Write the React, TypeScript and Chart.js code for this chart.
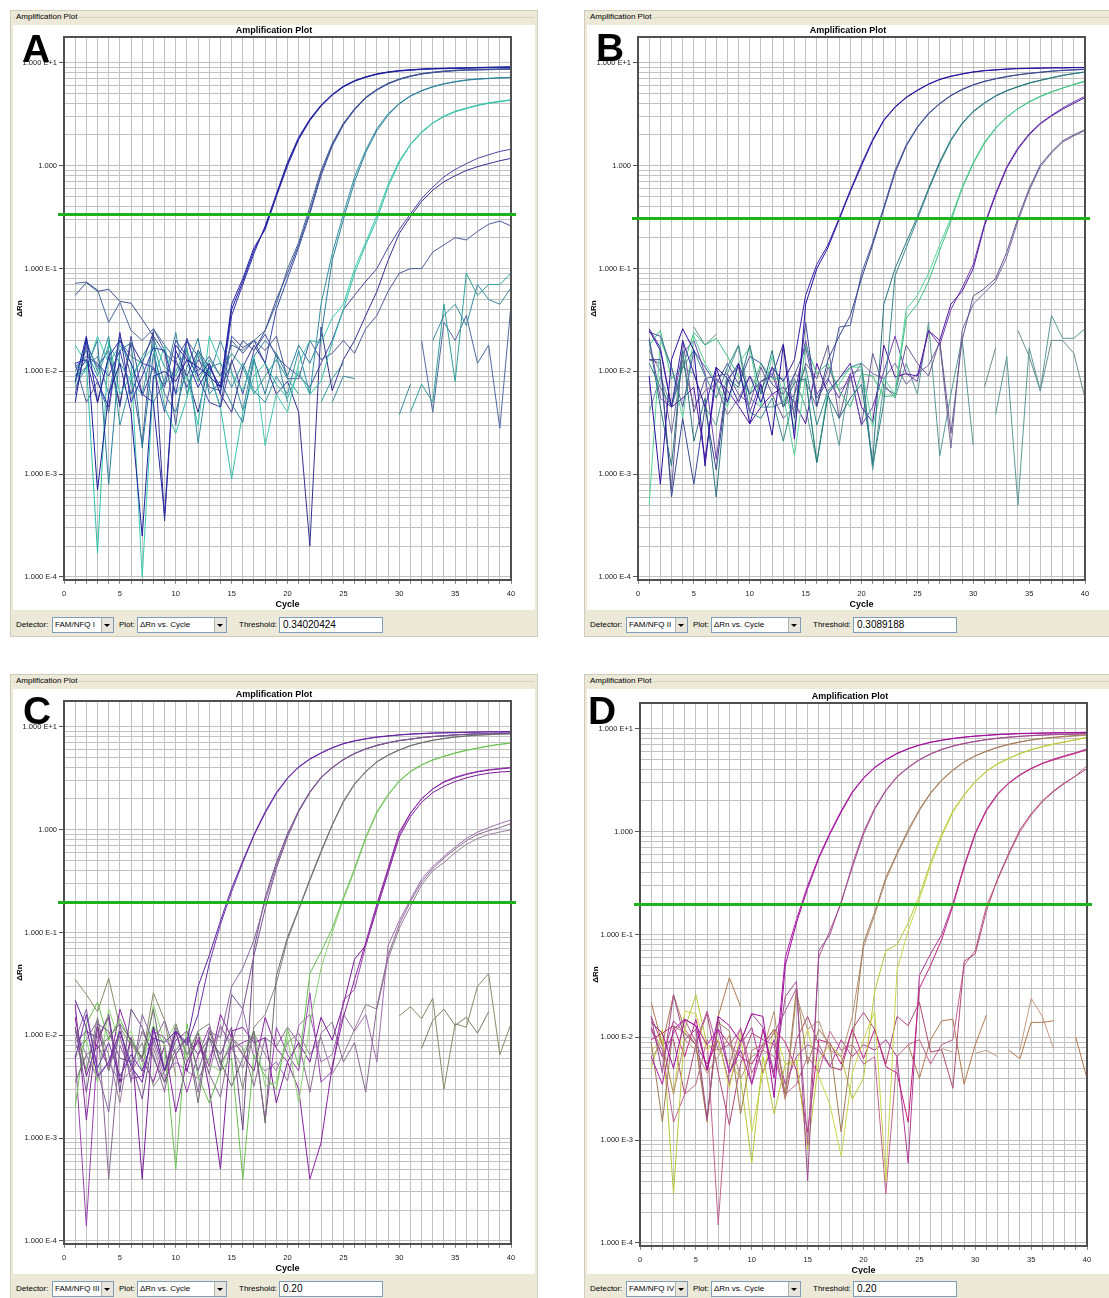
import React, { useEffect, useRef } from "react";
import { Chart, registerables } from "chart.js";

Chart.register(...registerables);

const FONT = '"Liberation Sans", Arial, Helvetica, sans-serif';
Chart.defaults.font.family = FONT;
const _ = null;

// ---------- axes ----------
const CYCLES = [1, 2, 3, 4, 5, 6, 7, 8, 9, 10, 11, 12, 13, 14, 15, 16, 17, 18, 19, 20,
  21, 22, 23, 24, 25, 26, 27, 28, 29, 30, 31, 32, 33, 34, 35, 36, 37, 38, 39, 40];
const X_GRID = [0, ...CYCLES];
const X_LABELED = [0, 5, 10, 15, 20, 25, 30, 35, 40];
const Y_LABEL_VALUES = [1e-4, 1e-3, 1e-2, 1e-1, 1, 10];
const Y_LABELS = ["1.000 E-4", "1.000 E-3", "1.000 E-2", "1.000 E-1", "1.000", "1.000 E+1"];
const Y_MIN = 9.35e-5;
const Y_MAX = 17.9;

const LETTERS = ["A", "B", "C", "D"];
const DETECTORS = ["FAM/NFQ I", "FAM/NFQ II", "FAM/NFQ III", "FAM/NFQ IV"];
const THRESHOLDS = [0.34020424, 0.3089188, 0.2, 0.2];
const THRESHOLD_TEXT = ["0.34020424", "0.3089188", "0.20", "0.20"];

// ---------- Panel A (ΔRn per cycle 1..40) ----------
const A1 = [.005, .021, .0007, .006, .012, .004, .00025, .009, .010, .008,
  .013, .011, .009, .007, .040, .075, .15, .25, .52, 1.05,
  1.85, 2.8, 3.85, 4.9, 5.9, 6.7, 7.3, 7.8, 8.15, 8.4,
  8.55, 8.7, 8.8, 8.85, 8.9, 8.95, 9.0, 9.05, 9.1, 9.1];
const A2 = [.008, .022, .005, .014, .020, .012, .006, .005, .0004, .018,
  .013, .007, .011, .007, .045, .080, .16, .24, .50, 1.0,
  1.8, 2.75, 3.8, 4.85, 5.85, 6.65, 7.25, 7.75, 8.1, 8.35,
  8.5, 8.65, 8.75, 8.8, 8.85, 8.9, 8.95, 9.0, 9.0, 9.05];
const A3 = [.012, .013, .008, .0045, .024, .005, .009, .017, .016, .006,
  .021, .009, .012, .006, .035, .070, .14, .26, .53, 1.08,
  1.9, 2.85, 3.9, 4.95, 5.95, 6.75, 7.35, 7.85, 8.2, 8.45,
  8.6, 8.75, 8.85, 8.9, 8.95, 9.0, 9.05, 9.1, 9.15, 9.2];
const A4 = [.055, .073, .060, .063, .048, .046, .032, .022, .015, .012,
  .009, .016, .011, .007, .012, .020, .016, .025, .05, .09,
  .17, .36, .85, 1.6, 2.55, 3.55, 4.6, 5.5, 6.3, 6.95,
  7.45, 7.85, 8.1, 8.3, 8.45, 8.55, 8.6, 8.65, 8.7, 8.75];
const A5 = [.072, .074, .062, .030, .047, .025, .020, .026, .018, .013,
  .020, .010, .014, .009, .018, .016, .020, .025, .045, .10,
  .18, .40, .90, 1.65, 2.6, 3.6, 4.65, 5.55, 6.35, 7.0,
  7.5, 7.9, 8.15, 8.35, 8.5, 8.6, 8.65, 8.7, 8.75, 8.8];
const A6 = [.011, .014, .012, .009, .016, .006, .012, .011, .007, .020,
  .014, .009, .005, .0045, .022, .017, .020, .012, .040, .08,
  .16, .34, .80, 1.55, 2.5, 3.5, 4.55, 5.45, 6.25, 6.9,
  7.4, 7.8, 8.05, 8.25, 8.4, 8.5, 8.55, 8.6, 8.65, 8.7];
const A7 = [.009, .011, .020, .0008, .016, .019, .0018, .015, .006, .004,
  .011, .021, .006, .008, .0048, .0032, .013, .006, .015, .009,
  .018, .012, .022, .12, .30, .70, 1.35, 2.2, 3.1, 4.0,
  4.75, 5.35, 5.85, 6.25, 6.55, 6.8, 6.95, 7.05, 7.15, 7.2];
const A8 = [.0075, .020, .010, .022, .003, .008, .006, .019, .0075, .010,
  .017, .002, .011, .012, .007, .012, .0065, .005, .009, .006,
  .016, .006, .045, .14, .34, .78, 1.42, 2.3, 3.2, 4.05,
  4.8, 5.4, 5.9, 6.3, 6.6, 6.85, 7.0, 7.1, 7.2, 7.25];
const A9 = [.018, .012, .00017, .020, .006, .009, .013, .017, .0045, .0025,
  .0055, .016, .0095, .0045, .0009, .004, .009, .012, .0075, .0055,
  .010, .006, .008, .019, .040, .09, .17, .30, .62, 1.08,
  1.6, 2.1, 2.6, 3.0, 3.35, 3.6, 3.85, 4.05, 4.2, 4.35];
const A10 = [.009, .010, .022, .012, .018, .012, .0001, .008, .018, .006,
  .009, .003, .022, .012, .0095, .0065, .014, .0019, .006, .004,
  .012, .020, .019, .033, .045, .10, .18, .33, .66, 1.12,
  1.62, 2.15, 2.62, 3.05, 3.4, 3.65, 3.9, 4.1, 4.25, 4.4];
const A11 = [.009, .013, .005, .014, .0048, .019, .012, .024, .00035, .016,
  .009, .004, .012, .006, .004, .011, .018, .012, .006, .008,
  .004, .0002, .027, .0065, .013, .020, .035, .06, .12, .22,
  .32, .45, .58, .70, .80, .90, .98, 1.05, 1.12, 1.18];
const A12 = [.006, .018, .011, .016, .0045, .022, .0058, .011, .004, .013,
  .007, .013, .010, .0044, .013, .006, .016, .023, .014, .011,
  .009, .007, .012, .020, .040, .055, .075, .10, .16, .24,
  .34, .48, .62, .78, .92, 1.05, 1.18, 1.28, 1.38, 1.45];
const A13 = [.012, .005, .008, .004, .023, .009, .002, .026, .016, .003,
  .020, .014, .007, .0065, .020, .015, .020, .016, .022, .0085,
  .0085, .020, .013, .015, .020, .015, .026, .035, .06, .09,
  .10, .10, .145, .17, .20, .19, .23, .27, .29, .26];
const A14 = [.007, .011, .014, .006, .020, .014, .012, .005, .008, .024,
  .006, .015, .009, .020, .010, .0042, .014, .020, .015, .005,
  _, _, _, .005, .009, .0085, _, _, _, .0038,
  .0075, _, .020, .035, .045, .028, .07, .05, .045, .065];
const A15 = [.010, .016, .009, .018, .012, .008, .014, .021, .011, .009,
  .016, .008, .013, .009, .015, .011, .006, .009, .013, .0085,
  .006, _, .005, .0085, .012, _, _, _, _, _,
  .004, .0075, .005, .045, .008, .09, .055, .07, .07, .09];
const A16 = [_, _, _, _, _, _, _, _, _, _,
  _, _, _, _, _, _, _, _, _, _,
  _, _, _, _, _, _, _, _, _, _,
  _, .020, .004, .030, .020, .035, .012, .018, .0028, .045];
const A_SERIES = [A1, A2, A3, A4, A5, A6, A7, A8, A9, A10, A11, A12, A13, A14, A15, A16];
const A_COLORS = ["#1c1c9c", "#2626a6", "#3434b0", "#3c5090", "#4a6a9a", "#3a4aa8", "#2a7c9c", "#2f92a0",
  "#2fbfa6", "#3ccab0", "#34308e", "#4848a0", "#4a5c96", "#3a8aa0", "#2f9f9a", "#506aa0"];

// ---------- Panel B ----------
const B1 = [.009, .0008, .013, .026, .016, .0012, .011, .005, .012, .0031,
  .0075, .0024, .018, .0022, .045, .10, .16, .30, .56, 1.0,
  1.75, 2.75, 3.7, 4.6, 5.4, 6.2, 6.9, 7.4, 7.8, 8.15,
  8.4, 8.55, 8.7, 8.8, 8.85, 8.9, 8.95, 8.95, 9.0, 9.0];
const B2 = [.025, .016, .0045, .020, .0095, .0045, .011, .0085, .005, .009,
  .005, .011, .008, .013, .055, .11, .17, .31, .58, 1.05,
  1.8, 2.8, 3.75, 4.65, 5.45, 6.25, 6.95, 7.45, 7.85, 8.2,
  8.45, 8.6, 8.75, 8.85, 8.9, 8.95, 9.0, 9.0, 9.05, 9.05];
const B3 = [.013, .013, .0006, .0035, .0008, .0045, .0011, .008, .012, .006,
  .008, .009, .0185, .0035, .030, .0046, .013, .022, .035, .08,
  .17, .38, .85, 1.55, 2.35, 3.2, 4.0, 4.8, 5.5, 6.1,
  6.6, 7.0, 7.35, 7.65, 7.9, 8.1, 8.3, 8.45, 8.55, 8.65];
const B4 = [.024, .022, .011, .0045, .016, .011, .0075, .012, .0075, .014,
  .012, .0075, .006, .0092, .017, .0055, .008, .027, .028, .09,
  .18, .40, .90, 1.6, 2.4, 3.25, 4.05, 4.85, 5.55, 6.15,
  6.65, 7.05, 7.4, 7.7, 7.95, 8.15, 8.35, 8.5, 8.6, 8.7];
const B5 = [.020, .0045, .0012, .016, .0021, .0055, .0006, .0085, .007, .018,
  .006, .016, .0045, .0078, .0085, .0013, .0058, .0035, .0055, .0075,
  .0013, .045, .10, .18, .32, .60, 1.1, 1.8, 2.6, 3.4,
  4.1, 4.8, 5.4, 5.9, 6.4, 6.8, 7.2, 7.6, 7.9, 8.2];
const B6 = [.012, .007, .0045, .011, .016, .009, .0055, .011, .018, .004,
  .0035, .0055, .0021, .006, .011, .003, .0065, .0085, .011, .012,
  .0012, .005, .085, .16, .30, .58, 1.05, 1.75, 2.55, 3.35,
  4.05, 4.75, 5.35, 5.85, 6.35, 6.75, 7.15, 7.55, 7.85, 8.15];
const B7 = [.018, .025, .0085, .011, .024, .018, .021, .014, .009, .006,
  .012, .0085, .0085, .0027, .018, .0095, .012, .0065, .0045, .0095,
  .009, .0057, .0058, .033, .045, .075, .15, .29, .60, 1.05,
  1.65, 2.3, 2.95, 3.6, 4.2, 4.75, 5.25, 5.7, 6.2, 6.7];
const B8 = [.0005, .020, .011, .0035, .022, .012, .0078, .0045, .012, .017,
  .0045, .014, .006, .0015, .009, .0013, .0065, .0075, .011, .011,
  .0029, .0085, .006, .040, .055, .09, .17, .31, .62, 1.08,
  1.7, 2.35, 3.0, 3.6, 4.15, 4.7, 5.2, 5.7, 6.15, 6.6];
const B9 = [.026, .017, .0045, .0055, .007, .0014, .0085, .0065, .0046, .0031,
  .0045, .006, .007, .005, .0031, .012, .006, .0085, .012, .0045,
  .0032, .018, .0088, .0095, .009, .025, .020, .045, .06, .10,
  .26, .52, .95, 1.45, 2.0, 2.55, 3.05, 3.55, 4.05, 4.6];
const B10 = [.021, .0055, .0045, .015, .020, .0095, .0014, .0085, .011, .004,
  .008, .0095, .0045, .006, .020, .006, .0085, .0055, .0095, .003,
  .0045, .010, .022, .0095, .008, .025, .018, .040, .065, .11,
  .27, .54, .98, 1.5, 2.05, 2.6, 3.1, 3.65, 4.2, 4.75];
const B11 = [.013, .012, .0007, .020, .004, .0085, .009, .0095, .006, .0048,
  .011, .006, .0035, .0045, .012, .0085, .018, .0035, .0095, .003,
  .015, .007, .006, .018, .012, .009, .020, .0025, .020, .054,
  .064, .08, .145, .31, .60, 1.02, 1.37, 1.75, 2.0, 2.25];
const B12 = [.016, .010, .0025, .013, .0045, .0065, .0075, .0038, .0055, .009,
  .0065, .011, .0045, .0095, .008, .0045, .011, .0065, .0082, .012,
  .0095, .0085, .012, .0075, .0095, .0115, .019, .0018, .025, .045,
  .058, .075, .13, .29, .57, .98, 1.33, 1.7, 1.95, 2.2];
const B13 = [.004, .009, .0045, .011, .0095, .0045, .003, .0095, .018, .0055,
  .0045, .0045, .005, .0085, .0045, .0013, .006, .0019, .0095, .0105,
  .0011, .0075, .0055, .012, .006, .030, .0015, .006, .021, .0019,
  _, .0038, .014, .0005, .017, .0065, .035, .021, .021, .026];
const B14 = [_, _, _, _, .027, .018, .023, _, _, .025,
  _, _, _, _, _, _, _, _, _, _,
  _, _, _, _, _, _, _, _, _, _,
  .007, .017, _, .025, .014, .0065, .020, .020, .015, .0055];
const B_SERIES = [B1, B2, B3, B4, B5, B6, B7, B8, B9, B10, B11, B12, B13, B14];
const B_COLORS = ["#2c0ca0", "#3a20a8", "#38488e", "#4a5a9c", "#2a7480", "#36888c", "#3cc080", "#58d49a",
  "#5416a0", "#7040b0", "#685890", "#7a6a9e", "#5a9a96", "#6a8c8c"];

// ---------- Panel C ----------
const C1 = [.022, .012, .004, .0055, .011, .005, .0035, .012, .0045, .011,
  .0085, .030, .06, .13, .27, .50, .90, 1.5, 2.3, 3.2,
  4.1, 4.9, 5.6, 6.3, 6.9, 7.35, 7.7, 8.0, 8.2, 8.4,
  8.55, 8.65, 8.75, 8.8, 8.85, 8.9, 8.95, 9.0, 9.0, 9.05];
const C2 = [.006, .016, .0048, .0085, .004, .0065, .0045, .0095, .0085, .011,
  .008, .016, .05, .12, .25, .48, .88, 1.45, 2.25, 3.15,
  4.05, 4.85, 5.55, 6.25, 6.85, 7.3, 7.65, 7.95, 8.15, 8.35,
  8.5, 8.6, 8.7, 8.75, 8.8, 8.85, 8.9, 8.95, 8.95, 9.0];
const C3 = [.012, .0028, .013, .011, .006, .0055, .0024, .0095, .0045, .009,
  .011, .0045, .0095, .0045, .025, .018, .06, .17, .42, .85,
  1.5, 2.3, 3.2, 4.0, 4.8, 5.5, 6.1, 6.6, 7.0, 7.35,
  7.6, 7.85, 8.05, 8.2, 8.35, 8.45, 8.55, 8.6, 8.65, 8.7];
const C4 = [.009, .018, .0045, .0018, .013, .0035, .016, .0085, .014, .0065,
  .0095, .0028, .011, .0095, .030, .045, .085, .20, .45, .90,
  1.55, 2.35, 3.25, 4.05, 4.85, 5.55, 6.15, 6.65, 7.05, 7.4,
  7.65, 7.9, 8.1, 8.25, 8.4, 8.5, 8.6, 8.65, 8.7, 8.75];
const C5 = [.0085, .011, .0095, .015, .0028, .018, .012, .006, .0035, .0065,
  .0095, .0065, .0095, .0065, .012, .0012, .07, .22, .48, .92,
  1.52, 2.32, 3.22, 4.02, 4.82, 5.52, 6.12, 6.62, 7.02, 7.38,
  7.62, 7.88, 8.08, 8.22, 8.38, 8.48, 8.58, 8.62, 8.68, 8.72];
const C6 = [.0035, .0065, .0075, .0095, .013, .009, .006, .018, .0045, .0072,
  .0095, .0022, .011, .0055, .0032, .006, .011, .0014, .038, .09,
  .17, .33, .62, 1.12, 1.9, 2.8, 3.7, 4.6, 5.35, 6.0,
  6.6, 7.05, 7.45, 7.75, 8.0, 8.2, 8.35, 8.45, 8.55, 8.6];
const C7 = [.012, .0045, .015, .0045, .011, .0055, .0085, .0032, .0045, .013,
  .0065, .011, .013, .0052, .0085, .003, .012, .016, .032, .085,
  .165, .32, .6, 1.1, 1.85, 2.75, 3.65, 4.55, 5.3, 5.95,
  6.55, 7.0, 7.4, 7.7, 7.95, 8.15, 8.3, 8.4, 8.5, 8.55];
const C8 = [.002, .013, .021, .009, .0145, .0085, .006, .0125, .008, .0005,
  .013, .004, .0022, .0045, .006, .0004, .0065, .004, .003, .0115,
  .005, .040, .065, .11, .22, .42, .85, 1.5, 2.2, 3.0,
  3.7, 4.3, 4.8, 5.2, 5.6, 5.95, 6.25, 6.55, 6.8, 7.0];
const C9 = [.006, .009, .0035, .018, .0085, .011, .0045, .020, .0085, .013,
  .006, .011, .0052, .0045, .0095, .0068, .011, .0032, .0035, .0095,
  .0022, .013, .045, .10, .21, .40, .82, 1.45, 2.15, 2.95,
  3.65, 4.25, 4.75, 5.15, 5.55, 5.9, 6.2, 6.5, 6.75, 6.95];
const C10 = [.020, .0015, .012, .0045, .018, .0085, .006, .0035, .008, .0018,
  .0055, .009, .005, .016, .0095, .0065, .0045, .015, .0075, .0055,
  .003, .0004, .0009, .005, .015, .035, .08, .19, .42, .95,
  1.45, 2.0, 2.5, 2.9, 3.2, 3.45, 3.65, 3.8, 3.9, 4.0];
const C11 = [.0065, .00014, .008, .005, .010, .0038, .004, .011, .0095, .0065,
  .0028, .0065, .012, .0055, .0075, .0085, .0095, .0015, .012, .0065,
  .0045, .026, .0035, .0045, .022, .028, .075, .18, .40, .90,
  1.45, 2.0, 2.5, 2.95, 3.25, 3.5, 3.7, 3.85, 3.95, 4.05];
const C12 = [.015, .004, .0085, .016, .0035, .0095, .0004, .012, .0045, .011,
  .0045, .011, .003, .0005, .011, .012, .0085, .0095, .0022, .0055,
  .0085, .0055, .015, .009, .020, .055, .075, .17, .38, .85,
  1.35, 1.85, 2.3, 2.65, 2.95, 3.2, 3.4, 3.55, 3.65, 3.7];
const C13 = [.011, .0065, .0038, .0055, .0035, .0045, .0065, .0085, .004, .0055,
  .0045, .0038, .006, .012, .0085, .018, .006, .0045, .0055, .0036,
  .0125, .016, .0055, .0065, .016, .011, .016, .0055, .075, .13,
  .21, .33, .44, .55, .68, .82, .95, 1.05, 1.15, 1.25];
const C14 = [.0075, .009, .014, .0004, .008, .0045, .011, .0065, .0028, .012,
  .0065, .0085, .0042, .0025, .0095, .0075, .0032, .0095, .0078, .012,
  .0085, .0028, .0105, .0135, .0055, .0085, .0028, .019, .06, .12,
  .20, .31, .42, .53, .65, .78, .90, .98, 1.05, 1.15];
const C15 = [.0085, .0045, .0125, .0065, .0022, .0095, .0055, .0075, .0035, .0105,
  .0055, .0095, .0042, .0125, .0075, .0048, .0105, .0065, .0045, .0085,
  .0105, .0065, .0095, .0042, .0065, .0115, .020, .018, .055, .11,
  .18, .29, .40, .48, .60, .72, .82, .90, .95, 1.0];
const C16 = [.035, .025, .017, .036, .012, .008, .006, .026, .014, .004,
  _, _, _, _, _, _, _, _, _, _,
  _, _, _, _, _, _, _, _, _, .0155,
  .019, .0145, .023, .003, .013, .012, .030, .040, .0065, .013];
const C17 = [_, _, _, _, _, _, _, _, _, _,
  _, _, _, _, _, _, _, _, _, _,
  _, _, _, _, _, _, _, _, _, _,
  _, .0075, .014, .018, .0125, .015, .0105, .017, _, _];
const C_SERIES = [C1, C2, C3, C4, C5, C6, C7, C8, C9, C10, C11, C12, C13, C14, C15, C16, C17];
const C_COLORS = ["#6424a4", "#7030ac", "#7a5290", "#8a68a0", "#6e4a86", "#6c6c6c", "#848484", "#68c050",
  "#8ed276", "#8a22a0", "#9a40b0", "#7a1a98", "#a070b0", "#8a6a90", "#9a7e9c", "#8a8a68", "#7e7a62"];

// ---------- Panel D ----------
const D1 = [.014, .011, .005, .015, .013, .0048, .016, .013, .009, .017,
  .016, .0026, .05, .13, .28, .55, .95, 1.55, 2.4, 3.3,
  4.2, 5.0, 5.75, 6.4, 6.95, 7.4, 7.75, 8.05, 8.3, 8.5,
  8.65, 8.8, 8.9, 9.0, 9.05, 9.1, 9.15, 9.2, 9.2, 9.25];
const D2 = [.0065, .0035, .012, .015, .013, .0085, .012, .0045, .0075, .0035,
  .012, .004, .06, .14, .30, .57, .98, 1.6, 2.45, 3.35,
  4.25, 5.05, 5.8, 6.45, 7.0, 7.45, 7.8, 8.1, 8.35, 8.55,
  8.7, 8.85, 8.95, 9.05, 9.1, 9.15, 9.2, 9.25, 9.25, 9.3];
const D3 = [.016, .0045, .026, .0095, .012, .0016, .016, .0045, .009, .017,
  .0125, .0045, .025, .035, .0004, .07, .10, .21, .45, .95,
  1.65, 2.5, 3.4, 4.2, 5.0, 5.7, 6.3, 6.8, 7.2, 7.55,
  7.85, 8.1, 8.3, 8.45, 8.6, 8.7, 8.8, 8.85, 8.9, 9.0];
const D4 = [.0125, .0065, .011, .015, .009, .018, .0075, .0085, .012, .0035,
  .008, .011, .018, .030, .0009, .06, .11, .20, .48, 1.0,
  1.7, 2.55, 3.45, 4.25, 5.05, 5.75, 6.35, 6.85, 7.25, 7.6,
  7.9, 8.15, 8.35, 8.5, 8.65, 8.75, 8.85, 8.9, 8.95, 9.05];
const D5 = [.009, .0015, .013, .011, .0085, .0016, .014, .0115, .0018, .0075,
  .0085, .012, .0028, .030, .0055, .012, .0085, .0012, .0085, .083,
  .165, .36, .62, 1.05, 1.65, 2.4, 3.2, 4.0, 4.8, 5.5,
  6.1, 6.65, 7.1, 7.5, 7.85, 8.1, 8.3, 8.5, 8.65, 8.8];
const D6 = [.0065, .0085, .0028, .0095, .0075, .0045, .0065, .0105, .004, .0065,
  .0075, .018, .0025, .025, .012, .0145, .0075, .0065, .016, .075,
  .155, .34, .60, 1.0, 1.6, 2.35, 3.15, 3.95, 4.75, 5.45,
  6.05, 6.6, 7.05, 7.45, 7.8, 8.05, 8.25, 8.4, 8.55, 8.7];
const D7 = [.005, .012, .0003, .012, .026, .0085, .0075, .0058, .004, .0006,
  .0065, .0018, .0055, .006, .0008, .006, .0085, .0065, .0025, .004,
  .028, .07, .08, .13, .24, .50, .95, 1.6, 2.3, 3.1,
  3.9, 4.6, 5.2, 5.8, 6.3, 6.75, 7.15, 7.5, 7.9, 8.3];
const D8 = [.0075, .0095, .0028, .018, .017, .0075, .0095, .0032, .011, .0012,
  .0045, .012, .0055, .0055, .012, .0042, .0022, .0007, .0045, .0095,
  .018, .0004, .045, .11, .22, .47, .90, 1.55, 2.25, 3.05,
  3.85, 4.55, 5.15, 5.75, 6.25, 6.7, 7.1, 7.45, 7.85, 8.25];
const D9 = [.0095, .011, .013, .0065, .015, .0048, .012, .0085, .0065, .0055,
  .0085, .012, .009, .0048, .0012, .0095, .0088, .0055, .012, .0062,
  .012, .0052, .0045, .0015, .030, .050, .09, .19, .45, .95,
  1.6, 2.3, 2.95, 3.55, 4.1, 4.6, 5.0, 5.4, 5.8, 6.3];
const D10 = [.012, .0065, .0145, .011, .0085, .0055, .0095, .0035, .0085, .0125,
  .0045, .0095, .0035, .0065, .0085, .0075, .0052, .0095, .0065, .0085,
  .0075, .0095, .0065, .0006, .040, .065, .10, .20, .47, .98,
  1.65, 2.35, 3.0, 3.6, 4.15, 4.65, 5.1, 5.5, 5.9, 6.4];
const D11 = [.016, .0085, .0095, .0028, .0085, .017, .0045, .0014, .0055, .011,
  .0095, .0085, .0025, .0095, .016, .0085, .0052, .0048, .012, .0175,
  .012, .0055, .016, .013, .022, .0072, .0076, .0032, .055, .065,
  .17, .35, .62, 1.05, 1.5, 2.0, 2.5, 3.0, 3.5, 4.1];
const D12 = [.0125, .0075, .0015, .0028, .0035, .0095, .00015, .0055, .0125, .0045,
  .0075, .0065, .0028, .0035, .0065, .0045, .0115, .0075, .0085, .0055,
  .0065, .0003, .0065, .0085, .0095, .0055, .0085, .0095, .050, .070,
  .19, .34, .60, 1.0, 1.45, 1.95, 2.45, 2.95, 3.5, 4.4];
const D13 = [.022, .0085, .026, .012, .0085, .0015, .016, .038, .020, _,
  _, _, _, _, _, _, _, _, _, _,
  _, _, _, .0085, .004, .0095, .0145, .015, .0035, .0085,
  .0165, _, .0075, .0062, .014, .014, .0145, _, .010, .004];
const D14 = [_, _, _, _, _, _, _, _, _, _,
  _, _, _, _, _, _, _, _, _, _,
  _, _, _, _, _, _, .0078, .0072, _, .007,
  .0075, .0065, _, .0075, .024, .016, .0078, _, _, _];
const D_SERIES = [D1, D2, D3, D4, D5, D6, D7, D8, D9, D10, D11, D12, D13, D14];
const D_COLORS = ["#a00e9c", "#b01aa8", "#9c4a8c", "#b0589a", "#a07a58", "#b89274", "#b8c838", "#ccd64a",
  "#c0207e", "#b03a98", "#b04a78", "#c06490", "#b07850", "#c89a80"];

const PANEL_SERIES = [A_SERIES, B_SERIES, C_SERIES, D_SERIES];
const PANEL_COLORS = [A_COLORS, B_COLORS, C_COLORS, D_COLORS];

// ---------- layout (page pixels) ----------
const FRAMES = [
  { x: 10, y: 10, dx: 0, dy: 0, lx: 22, ly: 29 },
  { x: 584, y: 10, dx: 0, dy: 0, lx: 596, ly: 28 },
  { x: 10, y: 674, dx: 0, dy: 0, lx: 23, ly: 691 },
  { x: 584, y: 674, dx: 2, dy: 2, lx: 588, ly: 691 },
];

const Y_GRID: number[] = (() => {
  const out: number[] = [];
  for (let e = -4; e <= 0; e++) for (let m = 1; m <= 9; m++) out.push(m * Math.pow(10, e));
  out.push(10);
  return out;
})();

function yLabel(v: number): string {
  for (let i = 0; i < Y_LABEL_VALUES.length; i++) {
    if (Math.abs(v / Y_LABEL_VALUES[i] - 1) < 1e-6) return Y_LABELS[i];
  }
  return "";
}

function AmpChart({ series, colors, threshold }: { series: (number | null)[][]; colors: string[]; threshold: number }) {
  const ref = useRef<HTMLCanvasElement>(null);
  useEffect(() => {
    const overlay = {
      id: "ampOverlay",
      afterDatasetsDraw(chart: any) {
        const { ctx, chartArea: a } = chart;
        const y = chart.scales.y;
        ctx.save();
        ctx.strokeStyle = "#505050";
        ctx.lineWidth = 2;
        ctx.strokeRect(a.left, a.top, a.right - a.left, a.bottom - a.top);
        const ty = Math.round(y.getPixelForValue(threshold)) + 0.5;
        ctx.strokeStyle = "#1db31d";
        ctx.lineWidth = 3;
        ctx.beginPath();
        ctx.moveTo(a.left - 6, ty);
        ctx.lineTo(a.right + 5, ty);
        ctx.stroke();
        ctx.fillStyle = "#000";
        ctx.font = `bold 9px ${FONT}`;
        ctx.textAlign = "center";
        ctx.textBaseline = "middle";
        ctx.fillText("Amplification Plot", chart.width / 2, a.top - 6);
        ctx.restore();
      },
    };
    const chart = new Chart(ref.current as HTMLCanvasElement, {
      type: "line",
      data: {
        datasets: series.map((s, i) => ({
          data: s.map((v, j) => ({ x: CYCLES[j], y: v })),
          borderColor: colors[i],
          borderWidth: 1,
          pointRadius: 0,
          fill: false,
          tension: 0,
          spanGaps: false,
        })),
      },
      options: {
        animation: false,
        responsive: false,
        maintainAspectRatio: false,
        events: [],
        layout: { padding: { top: 12, right: 24, left: 0, bottom: 0 } },
        plugins: { legend: { display: false }, tooltip: { enabled: false }, title: { display: false } },
        scales: {
          x: {
            type: "linear",
            min: 0,
            max: 40,
            afterBuildTicks: (s: any) => { s.ticks = X_GRID.map((v) => ({ value: v })); },
            afterFit: (s: any) => { s.height = 30; },
            ticks: {
              autoSkip: false,
              maxRotation: 0,
              padding: 5,
              color: "#222",
              font: { size: 7.5, family: FONT },
              callback: (v: any) => (X_LABELED.includes(Number(v)) ? String(v) : ""),
            },
            grid: { color: "#c2c2c2", lineWidth: 1, tickLength: 4, tickColor: "#8a8a8a" },
            border: { display: false },
            title: { display: true, text: "Cycle", color: "#000", font: { size: 9, weight: "bold", family: FONT }, padding: 0 },
          },
          y: {
            type: "logarithmic",
            min: Y_MIN,
            max: Y_MAX,
            afterBuildTicks: (s: any) => { s.ticks = Y_GRID.map((v) => ({ value: v })); },
            afterFit: (s: any) => { s.width = 51; },
            ticks: {
              autoSkip: false,
              padding: 2,
              color: "#222",
              font: { size: 7.5, family: FONT },
              callback: (v: any) => yLabel(Number(v)),
            },
            grid: {
              color: "#c2c2c2",
              lineWidth: 1,
              tickLength: 5,
              tickColor: (c: any) => (c.tick && yLabel(c.tick.value) ? "#555" : "rgba(0,0,0,0)"),
            },
            border: { display: false },
            title: { display: true, text: "ΔRn", color: "#000", font: { size: 8, weight: "bold", family: FONT }, padding: { top: 2, bottom: 0 } },
          },
        },
      } as any,
      plugins: [overlay],
    });
    return () => chart.destroy();
  }, [series, colors, threshold]);
  return <canvas ref={ref} width={522} height={585} style={{ display: "block" }} />;
}

const textStyle: React.CSSProperties = {
  position: "absolute",
  fontSize: 8,
  lineHeight: "16px",
  color: "#000",
  whiteSpace: "nowrap",
  fontFamily: FONT,
};

function Combo({ left, width, text }: { left: number; width: number; text: string }) {
  return (
    <div
      style={{
        position: "absolute",
        left,
        top: 606,
        width,
        height: 16,
        background: "#fff",
        border: "1px solid #7f9db9",
        boxSizing: "border-box",
        fontSize: 8,
        lineHeight: "14px",
        paddingLeft: 2,
        color: "#000",
        whiteSpace: "nowrap",
        overflow: "hidden",
        fontFamily: FONT,
      }}
    >
      {text}
      <div
        style={{
          position: "absolute",
          right: 0,
          top: 0,
          width: 12,
          height: 14,
          background: "#e8e6dc",
          borderLeft: "1px solid #b5b3a8",
          boxSizing: "border-box",
        }}
      >
        <div
          style={{
            position: "absolute",
            left: 2,
            top: 6,
            width: 0,
            height: 0,
            borderLeft: "3px solid transparent",
            borderRight: "3px solid transparent",
            borderTop: "3px solid #000",
          }}
        />
      </div>
    </div>
  );
}

function Panel({ idx }: { idx: number }) {
  const f = FRAMES[idx];
  return (
    <>
      <div
        style={{
          position: "absolute",
          left: f.x,
          top: f.y,
          width: 528,
          height: 627,
          background: "#ece9d8",
          border: "1px solid #cfccbc",
          boxSizing: "border-box",
          fontFamily: FONT,
        }}
      >
        <div style={{ position: "absolute", left: 2, right: 2, top: 6, height: 1, background: "#d6d3c3" }} />
        <div
          style={{
            position: "absolute",
            left: 4,
            top: 1,
            fontSize: 8,
            lineHeight: "10px",
            background: "#ece9d8",
            padding: "0 1px",
            color: "#000",
          }}
        >
          Amplification Plot
        </div>
        <div
          style={{
            position: "absolute",
            left: 2,
            top: 14,
            width: 522,
            height: 585,
            background: "#fff",
            overflow: "hidden",
          }}
        >
          <div style={{ position: "absolute", left: f.dx, top: f.dy }}>
            <AmpChart series={PANEL_SERIES[idx]} colors={PANEL_COLORS[idx]} threshold={THRESHOLDS[idx]} />
          </div>
        </div>
        <div style={{ ...textStyle, left: 5, top: 606 }}>Detector:</div>
        <Combo left={41} width={62} text={DETECTORS[idx]} />
        <div style={{ ...textStyle, left: 108, top: 606 }}>Plot:</div>
        <Combo left={126} width={90} text="ΔRn vs. Cycle" />
        <div style={{ ...textStyle, left: 228, top: 606 }}>Threshold:</div>
        <div
          style={{
            position: "absolute",
            left: 268,
            top: 606,
            width: 104,
            height: 16,
            background: "#fff",
            border: "1px solid #7f9db9",
            boxSizing: "border-box",
            fontSize: 10,
            lineHeight: "14px",
            paddingLeft: 3,
            color: "#000",
            fontFamily: FONT,
          }}
        >
          {THRESHOLD_TEXT[idx]}
        </div>
      </div>
      <div
        style={{
          position: "absolute",
          left: f.lx,
          top: f.ly,
          fontSize: 39,
          lineHeight: "39px",
          fontWeight: "bold",
          color: "#000",
          fontFamily: FONT,
          zIndex: 5,
        }}
      >
        {LETTERS[idx]}
      </div>
    </>
  );
}

export default function App() {
  return (
    <div
      style={{
        position: "absolute",
        left: 0,
        top: 0,
        width: 1109,
        height: 1298,
        overflow: "hidden",
        background: "#fff",
      }}
    >
      <Panel idx={0} />
      <Panel idx={1} />
      <Panel idx={2} />
      <Panel idx={3} />
    </div>
  );
}
